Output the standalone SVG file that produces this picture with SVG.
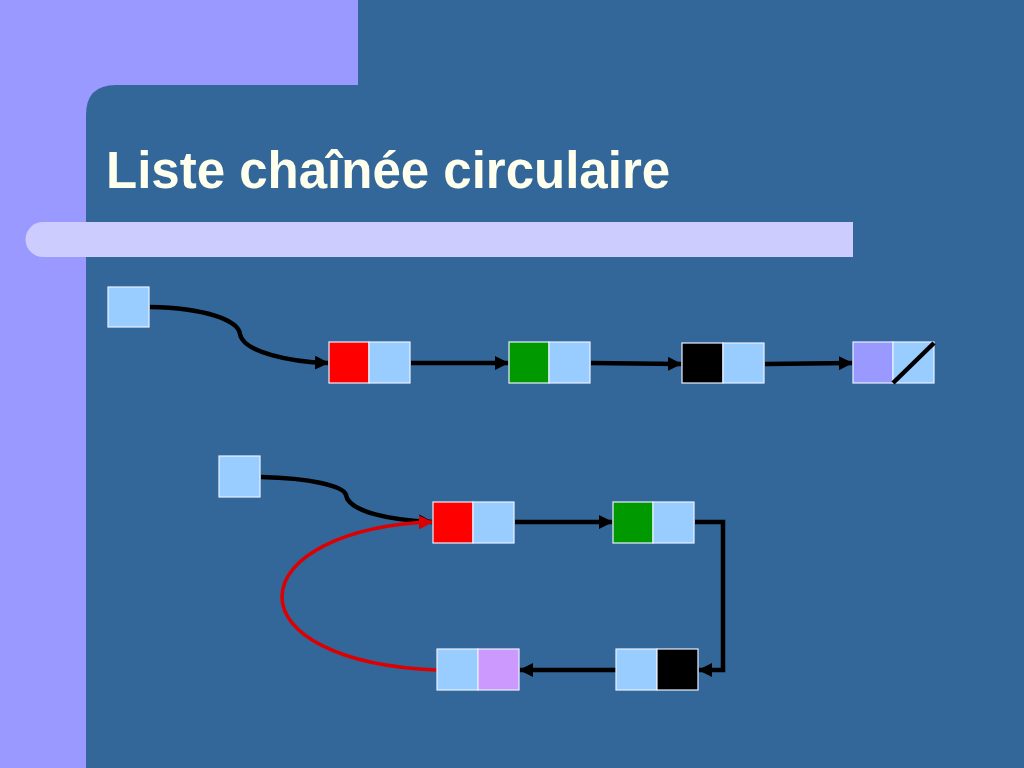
<svg xmlns="http://www.w3.org/2000/svg" width="1024" height="768" viewBox="0 0 1024 768">
<defs>
<style>
.cell{stroke:#E8F0FF;stroke-width:1.2}
.blue{fill:#99CCFF}
.link{fill:none;stroke:#000;stroke-width:4.5}
.red{fill:none;stroke:#DD0000;stroke-width:3.5}
.title{font-family:"Liberation Sans",Arial,sans-serif;font-weight:bold;font-size:51px;fill:#FFFFEE}
</style>
<marker id="ah" viewBox="0 0 14 14" refX="13" refY="7" markerWidth="14" markerHeight="14" markerUnits="userSpaceOnUse" orient="auto">
<path d="M0,0 L14,7 L0,14 Z" fill="#000"/>
</marker>
<marker id="ahr" viewBox="0 0 14 14" refX="13" refY="7" markerWidth="14" markerHeight="14" markerUnits="userSpaceOnUse" orient="auto">
<path d="M0,0 L14,7 L0,14 Z" fill="#DD0000"/>
</marker>
</defs>
<g id="background">
<rect x="0" y="0" width="1024" height="768" fill="#9999FF"/>
<rect x="358" y="0" width="666" height="90" fill="#336699"/>
<path d="M86,768 L86,115 Q86,85 116,85 L1024,85 L1024,768 Z" fill="#336699"/>
<path d="M43,222 L853,222 L853,257 L43,257 A17.5,17.5 0 0 1 43,222 Z" fill="#CCCCFF"/>
</g>
<text class="title" x="106" y="188">Liste chaînée circulaire</text>
<g id="connectors">
<path class="link" d="M150,307 C205,308 238,320 240,334 C243,352 290,362 328,363" marker-end="url(#ah)"/>
<line class="link" x1="411" y1="363" x2="508" y2="363" marker-end="url(#ah)"/>
<line class="link" x1="591" y1="363" x2="681" y2="364" marker-end="url(#ah)"/>
<line class="link" x1="765" y1="364" x2="852" y2="363" marker-end="url(#ah)"/>
<path class="link" d="M261,477 C310,478 344,486 346,495 C349,512 390,520 432,522" marker-end="url(#ah)"/>
<line class="link" x1="515" y1="522" x2="612" y2="522" marker-end="url(#ah)"/>
<path class="link" d="M695,522 L723,522 L723,670 L699,670" marker-end="url(#ah)"/>
<line class="link" x1="616" y1="670" x2="520" y2="670" marker-end="url(#ah)"/>
<path class="red" d="M437,670 C335,666 282,632 282,597 C282,557 345,525 432,522" marker-end="url(#ahr)"/>
</g>
<g id="head1"><rect class="cell blue" x="108" y="287" width="41" height="40"/></g>
<g id="node1"><rect class="cell" x="329" y="342" width="40" height="41" fill="#FF0000"/><rect class="cell blue" x="369" y="342" width="41" height="41"/></g>
<g id="node2"><rect class="cell" x="509" y="342" width="40" height="41" fill="#009900"/><rect class="cell blue" x="549" y="342" width="41" height="41"/></g>
<g id="node3"><rect class="cell" x="682" y="343" width="41" height="40" fill="#000000"/><rect class="cell blue" x="723" y="343" width="41" height="40"/></g>
<g id="node4"><rect class="cell" x="853" y="342" width="40" height="41" fill="#9999FF"/><rect class="cell blue" x="893" y="342" width="41" height="41"/><line x1="893" y1="383" x2="934" y2="343" stroke="#000" stroke-width="4.5"/></g>
<g id="head2"><rect class="cell blue" x="219" y="456" width="41" height="41"/></g>
<g id="nodeA"><rect class="cell" x="433" y="502" width="40" height="41" fill="#FF0000"/><rect class="cell blue" x="473" y="502" width="41" height="41"/></g>
<g id="nodeB"><rect class="cell" x="613" y="502" width="40" height="41" fill="#009900"/><rect class="cell blue" x="653" y="502" width="41" height="41"/></g>
<g id="nodeC"><rect class="cell blue" x="616" y="649" width="41" height="41"/><rect class="cell" x="657" y="649" width="41" height="41" fill="#000000"/></g>
<g id="nodeD"><rect class="cell blue" x="437" y="649" width="41" height="41"/><rect class="cell" x="478" y="649" width="41" height="41" fill="#CC99FF"/></g>
</svg>
